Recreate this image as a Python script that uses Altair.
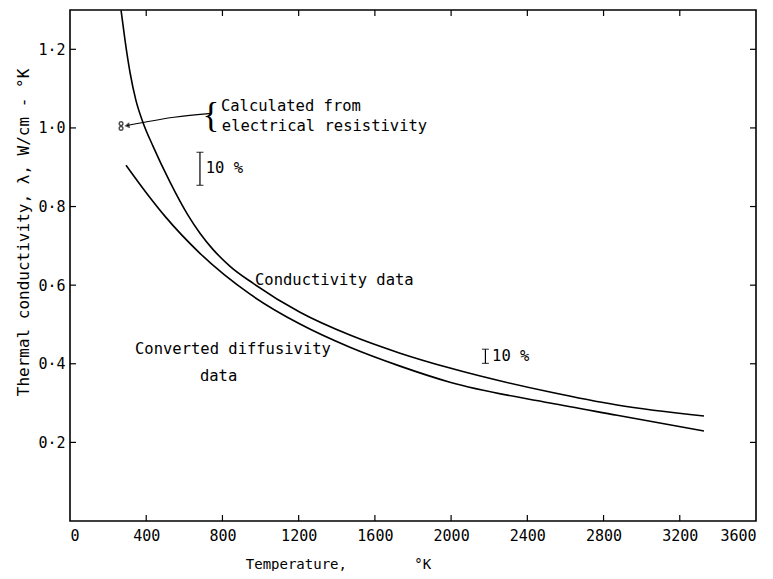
import altair as alt
import pandas as pd

# ---------------- data ----------------
cond_T = [268, 289, 315, 346, 383, 436, 525, 619, 682, 750, 840, 960, 1207, 1469, 1732, 1994, 2519, 2871, 3327]
cond_L = [1.299, 1.222, 1.141, 1.070, 1.014, 0.953, 0.862, 0.778, 0.732, 0.691, 0.648, 0.605, 0.531, 0.473,
          0.427, 0.389, 0.328, 0.295, 0.267]

diff_T = [294, 394, 499, 682, 945, 1207, 1469, 1732, 1994, 2519, 2871, 3327]
diff_L = [0.905, 0.839, 0.775, 0.681, 0.577, 0.501, 0.442, 0.394, 0.353, 0.300, 0.269, 0.229]

# measured points (calculated from electrical resistivity)
pts_T = [268, 268]
pts_L = [1.011, 0.999]

# arrow (tail -> tip)
arrow_T = [745, 546, 299]
arrow_L = [1.037, 1.027, 1.006]

# error bars (10 %)
bar_T = [682, 2180]
bar_lo = [0.854, 0.401]
bar_hi = [0.938, 0.437]

x_ticks = [0, 400, 800, 1200, 1600, 2000, 2400, 2800, 3200, 3600]
y_ticks = [0.2, 0.4, 0.6, 0.8, 1.0, 1.2]

labels_text = ["Calculated from", "electrical resistivity", "10 %", "Conductivity data",
               "Converted diffusivity", "data", "10 %"]
labels_T = [792, 797, 712, 971, 341, 682, 2215]
labels_L = [1.056, 1.005, 0.897, 0.612, 0.437, 0.368, 0.419]

brace_T = [783]
brace_L = [1.031]

W, H = 686, 511
FONT = "DejaVu Sans Mono"
NB = "\u00a0"

xs = alt.Scale(domain=[0, 3600], nice=False, zero=False)
ys = alt.Scale(domain=[0, 1.3], nice=False, zero=False)

curves = pd.DataFrame({
    "T": cond_T + diff_T,
    "L": cond_L + diff_L,
    "s": ["cond"] * len(cond_T) + ["diff"] * len(diff_T),
    "o": list(range(len(cond_T))) + list(range(len(diff_T))),
})

x_axis = alt.Axis(values=x_ticks, grid=False, domain=False, ticks=False,
                  title="Temperature," + NB * 8 + "°K",
                  labelFont=FONT, labelFontSize=15, labelColor="black", labelPadding=7,
                  titleFont=FONT, titleFontSize=14, titleFontWeight="normal", titleColor="black",
                  titleX=268, titleY=47, titleAnchor="middle", titleAlign="center",
                  titleBaseline="alphabetic",
                  labelExpr="datum.value")
y_axis = alt.Axis(values=y_ticks, grid=False, domain=False, ticks=False,
                  title="Thermal conductivity, λ, W/cm - °K",
                  labelFont=FONT, labelFontSize=15, labelColor="black", labelPadding=5,
                  labelExpr="replace(format(datum.value, '.1f'), '.', '·')",
                  titleFont=FONT, titleFontSize=16, titleFontWeight="normal", titleColor="black",
                  titleX=-47, titleY=222, titleAngle=270, titleAlign="center", titleBaseline="middle")

base_lines = alt.Chart(curves).mark_line(color="black", strokeWidth=1.6, interpolate="monotone").encode(
    x=alt.X("T:Q", scale=xs, axis=x_axis),
    y=alt.Y("L:Q", scale=ys, axis=y_axis),
    detail="s:N",
    order="o:Q",
)

# inward ticks on four sides
xt = pd.DataFrame({"T": x_ticks[1:-1]})
yt = pd.DataFrame({"L": y_ticks})
tick_b = alt.Chart(xt).mark_rule(color="black", strokeWidth=1.2).encode(
    x=alt.X("T:Q", scale=xs), y=alt.value(H), y2=alt.value(H - 6))
tick_t = alt.Chart(xt).mark_rule(color="black", strokeWidth=1.2).encode(
    x=alt.X("T:Q", scale=xs), y=alt.value(0), y2=alt.value(6))
tick_l = alt.Chart(yt).mark_rule(color="black", strokeWidth=1.2).encode(
    y=alt.Y("L:Q", scale=ys), x=alt.value(0), x2=alt.value(6))
tick_r = alt.Chart(yt).mark_rule(color="black", strokeWidth=1.2).encode(
    y=alt.Y("L:Q", scale=ys), x=alt.value(W), x2=alt.value(W - 6))

pts = alt.Chart(pd.DataFrame({"T": pts_T, "L": pts_L})).mark_point(
    shape="circle", size=14, color="black", strokeWidth=1.4, filled=False).encode(
    x=alt.X("T:Q", scale=xs), y=alt.Y("L:Q", scale=ys))

arrow_df = pd.DataFrame({"T": arrow_T, "L": arrow_L, "o": [0, 1, 2]})
arrow_line = alt.Chart(arrow_df).mark_line(color="black", strokeWidth=1.1, interpolate="monotone").encode(
    x=alt.X("T:Q", scale=xs), y=alt.Y("L:Q", scale=ys), order="o:Q")
arrow_head = alt.Chart(pd.DataFrame({"T": [arrow_T[-1]], "L": [arrow_L[-1]]})).mark_point(
    shape="triangle-right", size=36, color="black", filled=True, angle=172).encode(
    x=alt.X("T:Q", scale=xs), y=alt.Y("L:Q", scale=ys))

bars_df = pd.DataFrame({"T": bar_T, "lo": bar_lo, "hi": bar_hi})
bars = alt.Chart(bars_df).mark_rule(color="black", strokeWidth=1.2).encode(
    x=alt.X("T:Q", scale=xs), y=alt.Y("lo:Q", scale=ys), y2="hi:Q")
caps_lo = alt.Chart(bars_df).mark_tick(color="black", orient="horizontal", size=7, thickness=1.2).encode(
    x=alt.X("T:Q", scale=xs), y=alt.Y("lo:Q", scale=ys))
caps_hi = alt.Chart(bars_df).mark_tick(color="black", orient="horizontal", size=7, thickness=1.2).encode(
    x=alt.X("T:Q", scale=xs), y=alt.Y("hi:Q", scale=ys))

texts = alt.Chart(pd.DataFrame({"t": labels_text, "T": labels_T, "L": labels_L})).mark_text(
    font=FONT, fontSize=15.5, color="black", align="left", baseline="middle").encode(
    x=alt.X("T:Q", scale=xs), y=alt.Y("L:Q", scale=ys), text="t:N")

brace = alt.Chart(pd.DataFrame({"T": brace_T, "L": brace_L, "t": ["{"]})).mark_text(
    font="Liberation Serif", fontSize=35, color="black", align="right", baseline="middle").encode(
    x=alt.X("T:Q", scale=xs), y=alt.Y("L:Q", scale=ys), text="t:N")

chart = alt.layer(
    base_lines, tick_b, tick_t, tick_l, tick_r, pts, arrow_line, arrow_head,
    bars, caps_lo, caps_hi, texts, brace
).properties(
    width=W, height=H,
    autosize=alt.AutoSizeParams(type="none"),
    padding={"left": 62, "top": 2, "right": 5, "bottom": 50},
    background="white",
).configure_view(stroke="black", strokeWidth=1.6)

chart.save("out.html", embed_options={"renderer": "svg", "actions": False})
